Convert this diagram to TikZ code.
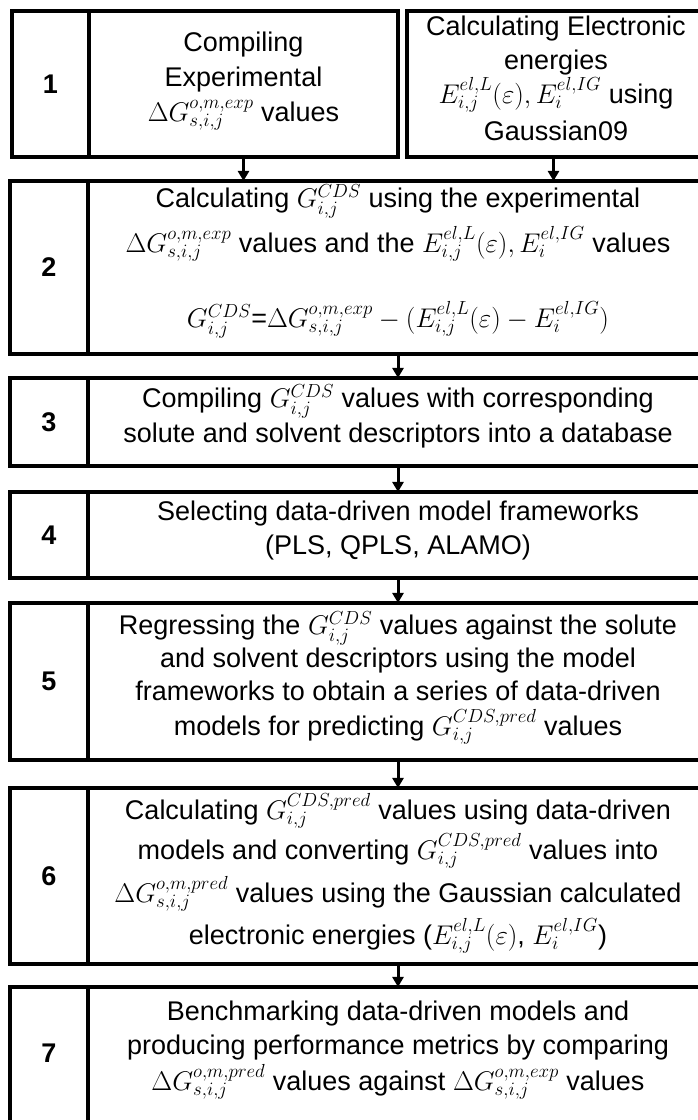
\documentclass[tikz,border=0pt]{standalone}
\usepackage{fix-cm}
\usepackage{fontspec}
\setmainfont{Liberation Sans}
\usetikzlibrary{arrows.meta}
\begin{document}
\begin{tikzpicture}[x=1pt,y=1pt,
  box/.style={draw=black, line width=4pt, inner sep=0pt, outer sep=0pt},
  lbl/.style={font=\fontsize{27}{33}\selectfont\bfseries, inner sep=0pt},
  txt/.style={font=\fontsize{27}{33}\selectfont, inner sep=0pt, anchor=mid},
  flow/.style={line width=3pt, -{Triangle[length=10pt,width=11pt]}}]
\useasboundingbox (0,0) rectangle (698,1120);
% row 1  (y 11.5 .. 157.5)
\node[box, minimum width=77, minimum height=146] (L1) at (50.5,1035.5) {};
\node[lbl] (n1) at (L1) {1};
\node[box, minimum width=309, minimum height=146] (A1) at (243.5,1035.5) {};
\node[txt] (a1) at (243.5,1120-49) {Compiling};
\node[txt] (a2) at (243.5,1120-84) {Experimental};
\node[txt] (a3) at (243.5,1120-119) {$\Delta G_{s,i,j}^{o,m,exp}$ values};
\node[box, minimum width=301, minimum height=146] (B1) at (557.5,1035.5) {};
\node[txt] (b1) at (556,1120-33) {Calculating Electronic};
\node[txt] (b2) at (556,1120-67) {energies};
\node[txt] (b3) at (556,1120-101) {$E_{i,j}^{el,L}(\varepsilon), E_i^{el,IG}$ using};
\node[txt] (b4) at (556,1120-138) {Gaussian09};
% row 2  (y 181 .. 354)
\node[box, minimum width=78, minimum height=173] (L2) at (49,852.5) {};
\node[lbl] (n2) at (L2) {2};
\node[box, minimum width=620, minimum height=173] (C2) at (398,852.5) {};
\node[txt] (c21) at (398,1120-205) {Calculating $G_{i,j}^{CDS}$ using the experimental};
\node[txt] (c22) at (398,1120-250) {$\Delta G_{s,i,j}^{o,m,exp}$ values and the $E_{i,j}^{el,L}(\varepsilon), E_i^{el,IG}$ values};
\node[txt] (c23) at (398,1120-325) {$G_{i,j}^{CDS}$=$\Delta G_{s,i,j}^{o,m,exp} - (E_{i,j}^{el,L}(\varepsilon) - E_i^{el,IG})$};
% row 3  (y 378 .. 466)
\node[box, minimum width=78, minimum height=88] (L3) at (49,698) {};
\node[lbl] (n3) at (L3) {3};
\node[box, minimum width=620, minimum height=88] (C3) at (398,698) {};
\node[txt] (c31) at (398,1120-405) {Compiling $G_{i,j}^{CDS}$ values with corresponding};
\node[txt] (c32) at (398,1120-440) {solute and solvent descriptors into a database};
% row 4  (y 492 .. 578)
\node[box, minimum width=78, minimum height=86] (L4) at (49,585) {};
\node[lbl] (n4) at (L4) {4};
\node[box, minimum width=620, minimum height=86] (C4) at (398,585) {};
\node[txt] (c41) at (398,1120-518) {Selecting data-driven model frameworks};
\node[txt] (c42) at (398,1120-552) {(PLS, QPLS, ALAMO)};
% row 5  (y 603 .. 760)
\node[box, minimum width=78, minimum height=157] (L5) at (49,438.5) {};
\node[lbl] (n5) at (L5) {5};
\node[box, minimum width=620, minimum height=157] (C5) at (398,438.5) {};
\node[txt] (c51) at (398,1120-632) {Regressing the $G_{i,j}^{CDS}$ values against the solute};
\node[txt] (c52) at (398,1120-665) {and solvent descriptors using the model};
\node[txt] (c53) at (398,1120-698) {frameworks to obtain a series of data-driven};
\node[txt] (c54) at (398,1120-733) {models for predicting $G_{i,j}^{CDS,pred}$ values};
% row 6  (y 788 .. 964)
\node[box, minimum width=78, minimum height=176] (L6) at (49,244) {};
\node[lbl] (n6) at (L6) {6};
\node[box, minimum width=620, minimum height=176] (C6) at (398,244) {};
\node[txt] (c61) at (398,1120-817) {Calculating $G_{i,j}^{CDS,pred}$ values using data-driven};
\node[txt] (c62) at (398,1120-857) {models and converting $G_{i,j}^{CDS,pred}$ values into};
\node[txt] (c63) at (398,1120-900) {$\Delta G_{s,i,j}^{o,m,pred}$ values using the Gaussian calculated};
\node[txt] (c64) at (398,1120-942) {electronic energies ($E_{i,j}^{el,L}(\varepsilon)$, $E_i^{el,IG}$)};
% row 7  (y 987 .. cut)
\node[box, minimum width=78, minimum height=213] (L7) at (49,26.5) {};
\node[lbl] (n7) at (49,1120-1053) {7};
\node[box, minimum width=620, minimum height=213] (C7) at (398,26.5) {};
\node[txt] (c71) at (398,1120-1018) {Benchmarking data-driven models and};
\node[txt] (c72) at (398,1120-1052) {producing performance metrics by comparing};
\node[txt] (c73) at (398,1120-1088) {$\Delta G_{s,i,j}^{o,m,pred}$ values against $\Delta G_{s,i,j}^{o,m,exp}$ values};
% arrows
\draw[flow] (A1.south) -- (A1.south |- C2.north);
\draw[flow] ([xshift=-4pt]B1.south) -- ([xshift=-4pt]B1.south |- C2.north);
\draw[flow] (C2.south) -- (C3.north);
\draw[flow] (C3.south) -- (C4.north);
\draw[flow] (C4.south) -- (C5.north);
\draw[flow] (C5.south) -- (C6.north);
\draw[flow] (C6.south) -- (C7.north);
\end{tikzpicture}
\end{document}
